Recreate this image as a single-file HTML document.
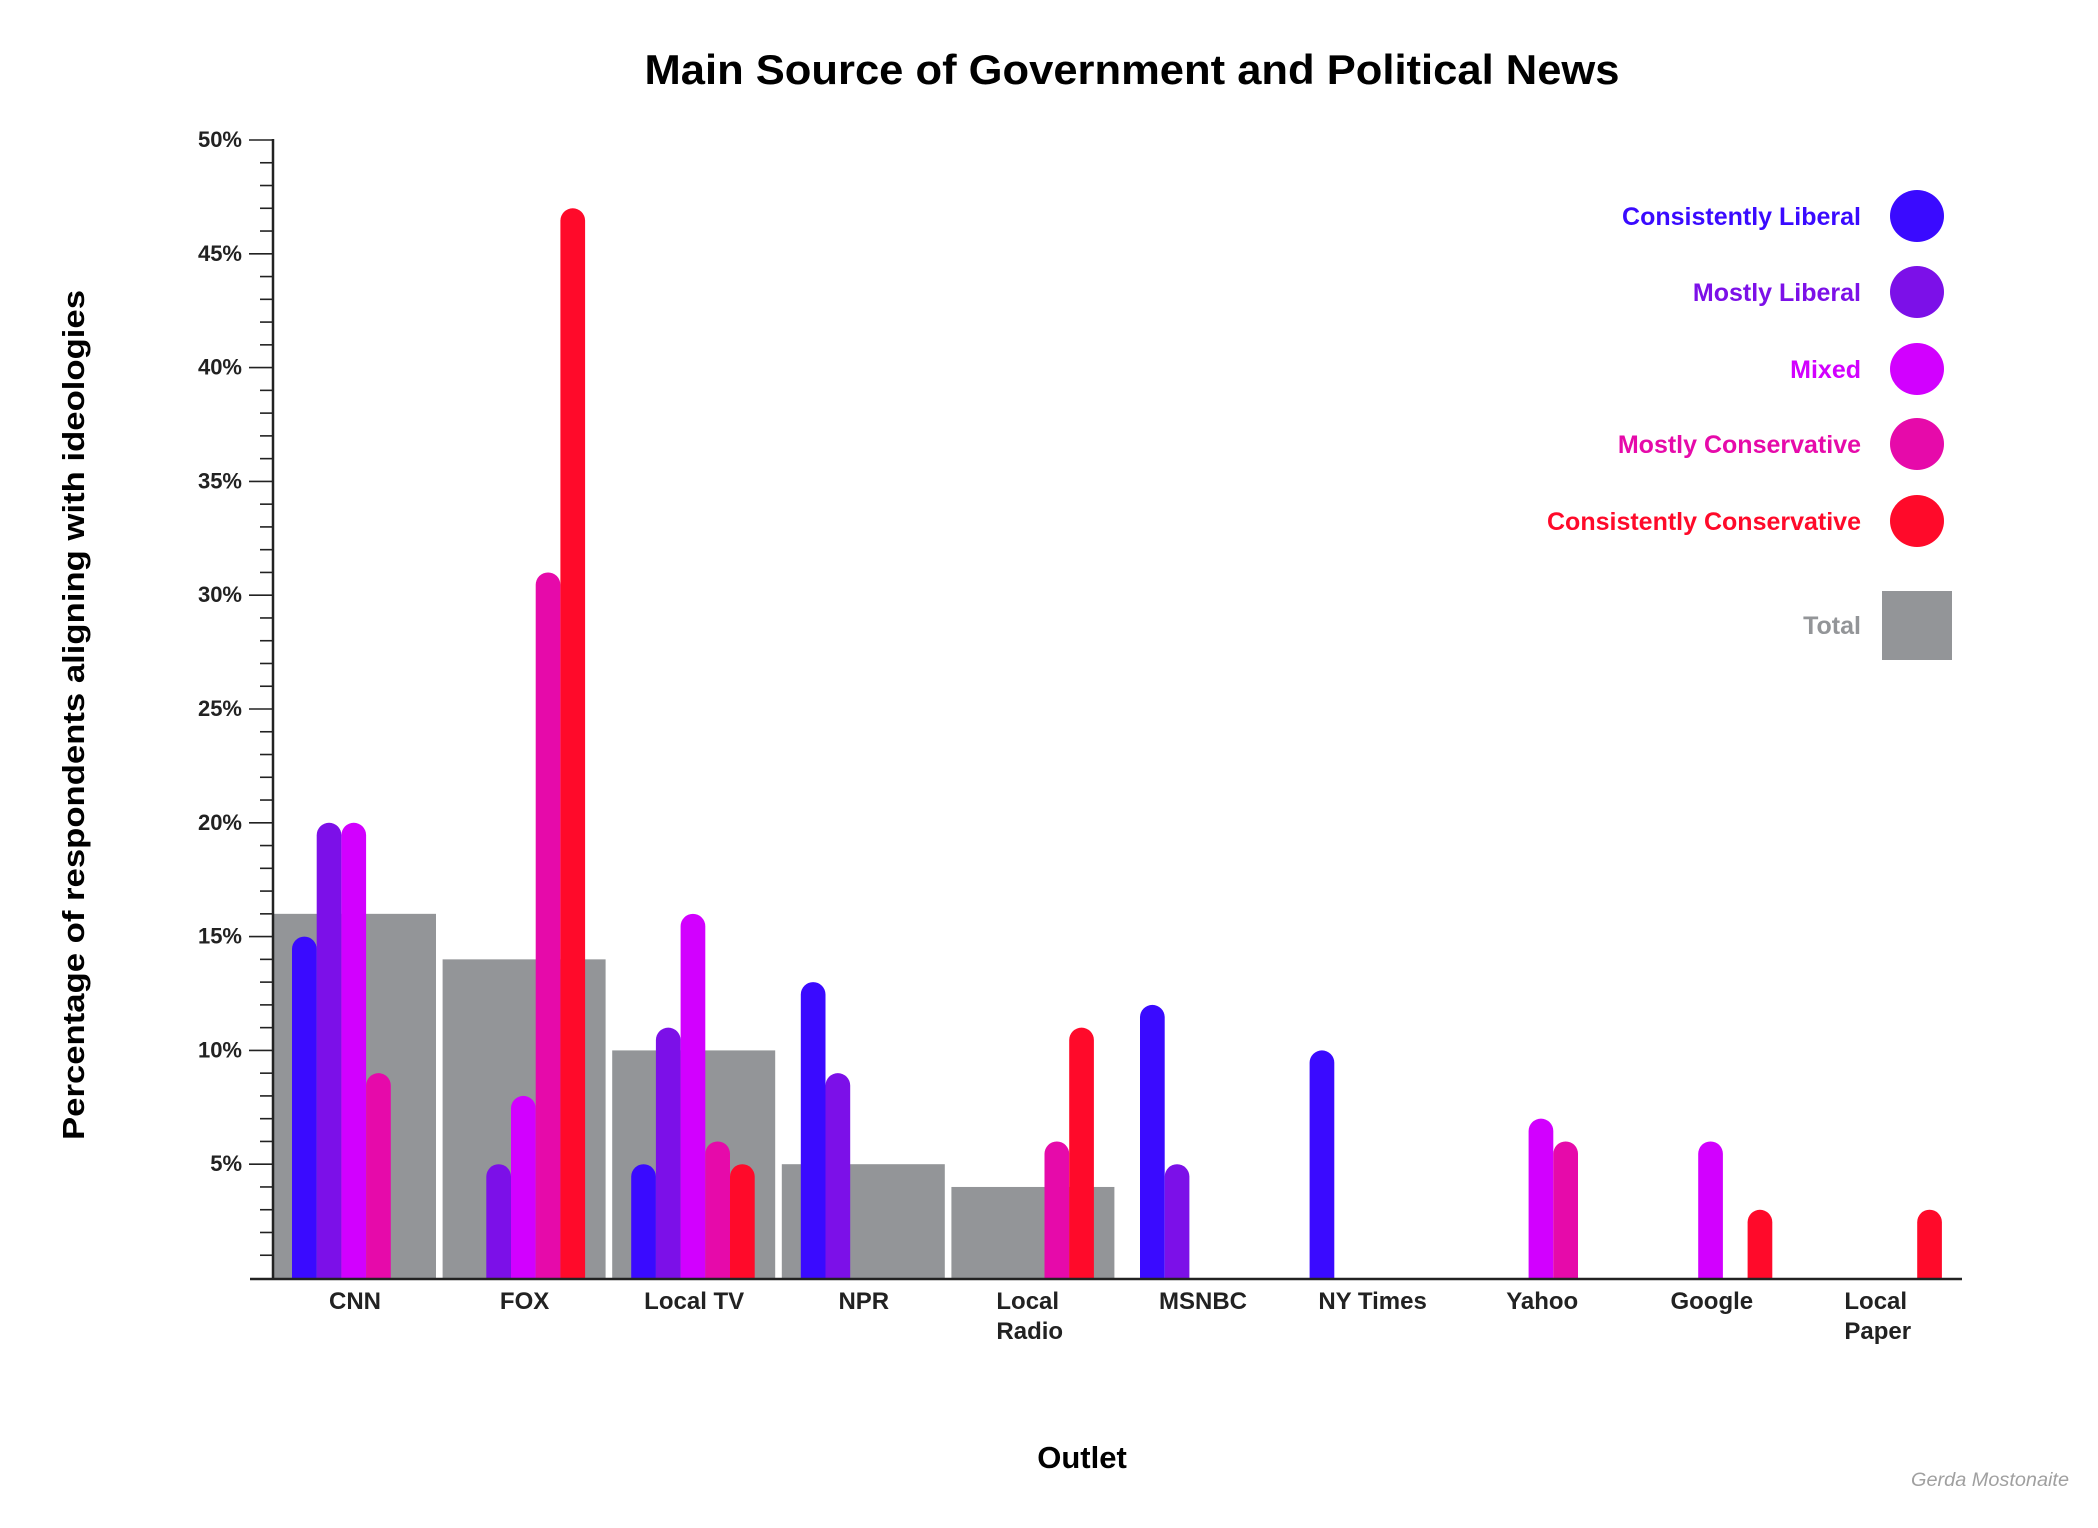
<!DOCTYPE html>
<html><head><meta charset="utf-8"><style>
html,body{margin:0;padding:0;background:#fff;}
svg{display:block;font-family:"Liberation Sans",sans-serif;}
</style></head><body>
<svg id="chart" width="2098" height="1528" viewBox="0 0 2098 1528" xmlns="http://www.w3.org/2000/svg">
<text x="1132" y="84" text-anchor="middle" font-size="42" font-weight="bold" fill="#000" textLength="975" lengthAdjust="spacingAndGlyphs">Main Source of Government and Political News</text>
<text transform="translate(84,715) rotate(-90)" text-anchor="middle" font-size="31" font-weight="bold" fill="#000" textLength="850" lengthAdjust="spacingAndGlyphs">Percentage of respondents aligning with ideologies</text>
<text x="1082" y="1468" text-anchor="middle" font-size="31" font-weight="bold" fill="#000">Outlet</text>
<text x="2069" y="1486" text-anchor="end" font-size="19" font-style="italic" fill="#a0a0a0" textLength="158" lengthAdjust="spacingAndGlyphs">Gerda Mostonaite</text>
<g id="totals"></g>
<g id="bars"></g>
<g id="axes"></g>
<g id="legend"></g>
</svg>
<script>
const categories = ["CNN","FOX","Local TV","NPR","Local Radio","MSNBC","NY Times","Yahoo","Google","Local Paper"];
const consLiberal = [15,0,5,13,0,12,10,0,0,0];
const mostLiberal = [20,5,11,9,0,5,0,0,0,0];
const mixed = [20,8,16,0,0,0,0,7,6,0];
const mostConservative = [9,31,6,0,6,0,0,6,0,0];
const consConservative = [0,47,5,0,11,0,0,0,3,3];
const totals = [16,14,10,5,4,0,0,0,0,0];
const yTicks = [5,10,15,20,25,30,35,40,45,50];
const seriesNames = ["Consistently Liberal","Mostly Liberal","Mixed","Mostly Conservative","Consistently Conservative"];
const seriesColors = ["#3a0aff","#7c10e8","#d200ff","#e60aaa","#ff0a2a"];
const seriesData = [consLiberal,mostLiberal,mixed,mostConservative,consConservative];

const NS="http://www.w3.org/2000/svg";
const x0=273, step=169.6, grayW=163, barOff=19, barW=24.7;
const yBase=1278, yTop=140, yMax=50;
function y(v){return yBase-(yBase-yTop)*v/yMax;}
function gx(i){return x0+i*step;}
function mk(tag,attrs,parent){const e=document.createElementNS(NS,tag);for(const k in attrs)e.setAttribute(k,attrs[k]);parent.appendChild(e);return e;}

const gT=document.getElementById('totals'), gB=document.getElementById('bars'), gA=document.getElementById('axes'), gL=document.getElementById('legend');

totals.forEach((v,i)=>{
  if(v<=0)return;
  const r=mk('rect',{x:gx(i),y:y(v),width:grayW,height:yBase-y(v),fill:'#939598'},gT);
  
  
});

seriesData.forEach((arr,s)=>{
  arr.forEach((v,i)=>{
    if(v<=0)return;
    const bx=gx(i)+barOff+s*barW, top=y(v), r=barW/2;
    const d=`M${bx},${yBase} L${bx},${top+r} A${r},${r} 0 0 1 ${bx+barW},${top+r} L${bx+barW},${yBase} Z`;
    const p=mk('path',{d:d,fill:seriesColors[s]},gB);
    
    
  });
});

let a=mk('line',{x1:273,y1:yTop-1,x2:273,y2:yBase+1,stroke:'#222','stroke-width':2.5},gA);


a=mk('line',{x1:250,y1:yBase+1,x2:1962,y2:yBase+1,stroke:'#222','stroke-width':2.5},gA);


for(let v=1;v<=yMax;v++){
  const major=v%5===0;
  const t=mk('line',{x1:major?249:260,y1:y(v),x2:273,y2:y(v),stroke:'#222','stroke-width':1.6},gA);
  
  
}
yTicks.forEach(v=>{
  const t=mk('text',{x:242,y:y(v)+7,'text-anchor':'end','font-size':22,'font-weight':'bold',fill:'#222'},gA);
  t.textContent=v+'%';
  
  
});
categories.forEach((c,i)=>{
  const cx=gx(i)+82;
  const parts=c.split(' ');
  if(c.startsWith('Local ')&&c!=='Local TV'){
    const t=mk('text',{x:cx-37,y:1309,'font-size':24,'font-weight':'bold',fill:'#222'},gA);
    
    
    mk('tspan',{x:cx-37,dy:0},t).textContent=parts[0];
    mk('tspan',{x:cx-37,dy:30},t).textContent=parts[1];
  } else {
    const t=mk('text',{x:cx,y:1309,'text-anchor':'middle','font-size':24,'font-weight':'bold',fill:'#222'},gA);
    t.textContent=c;
    
    
  }
});

const legY=[216,292,369,444,521];
seriesNames.forEach((n,s)=>{
  const t=mk('text',{x:1861,y:legY[s]+9,'text-anchor':'end','font-size':25,'font-weight':'bold',fill:seriesColors[s]},gL);
  t.textContent=n;
  
  
  const c=mk('ellipse',{cx:1917,cy:legY[s],rx:27,ry:26,fill:seriesColors[s]},gL);
  
  
});
let tt=mk('text',{x:1861,y:634,'text-anchor':'end','font-size':25,'font-weight':'bold',fill:'#939598'},gL);
tt.textContent='Total';


tt=mk('rect',{x:1882,y:591,width:70,height:69,fill:'#939598'},gL);


</script>
</body></html>
